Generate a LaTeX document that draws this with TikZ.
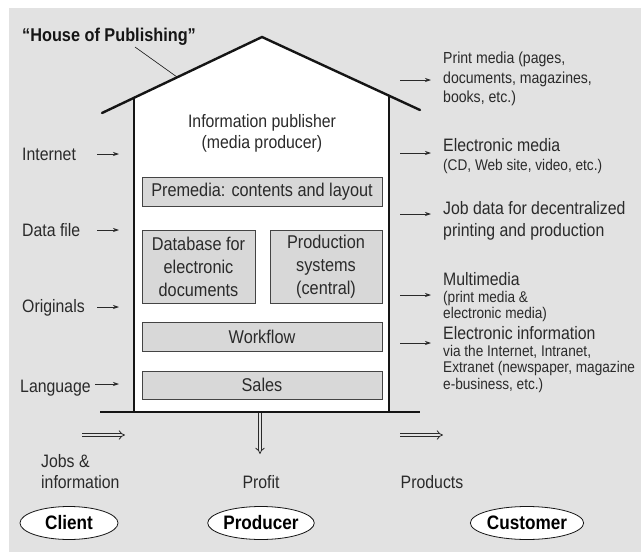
\documentclass[tikz,border=0pt]{standalone}
\usepackage{fontspec}
\setmainfont[FakeStretch=0.88]{Liberation Sans}
\usetikzlibrary{arrows.meta,shapes.geometric}
\definecolor{panel}{HTML}{E2E2E2}
\definecolor{boxfill}{HTML}{D8D8D8}
\definecolor{ink}{HTML}{151515}
\definecolor{txt}{HTML}{2A2A2A}
\begin{document}
\begin{tikzpicture}[x=1pt,y=-1pt,
  big/.style={font=\fontsize{18}{21}\selectfont},
  small/.style={font=\fontsize{15.5}{17}\selectfont},
  % multi-line nodes: the base anchor sits on the last line
  lbl/.style={inner sep=0pt, anchor=base west, text=txt},
  clbl/.style={inner sep=0pt, anchor=base, text=txt},
  unit/.style={draw=ink!80, line width=0.8pt, fill=boxfill, inner sep=0pt,
    text=txt, align=center, font=\fontsize{18.5}{23}\selectfont},
  wall/.style={line width=2.4pt, ink, line cap=round},
  feed/.style={line width=0.7pt, txt, -{Stealth[length=6pt,width=4pt]}},
  flow/.style={double=panel, double distance=2.4pt, line width=0.8pt, txt,
    -{Implies[length=5pt]}},
  party/.style={ellipse, draw=ink, line width=0.8pt, fill=white,
    minimum width=98pt, minimum height=33pt, inner sep=0pt,
    font=\fontsize{19.5}{20}\selectfont\bfseries}
]
\useasboundingbox (0,0) rectangle (641,552);
\fill[panel] (9,8) rectangle (641,552);

% house body
\fill[white] (134,412) -- (134,97.8) -- (262,37) -- (389,95.7) -- (389,412) -- cycle;
\coordinate (eaveL) at (102,113);
\coordinate (apex) at (262,37);
\coordinate (eaveR) at (420,110);
\draw[wall, line join=miter] (eaveL) -- (apex) -- (eaveR);
\draw[wall, line cap=butt] (134,97.8) -- (134,412);
\draw[wall, line cap=butt] (389,95.7) -- (389,412);
\draw[wall, line cap=butt] (100,412) -- (420,412);

% title and its leader
\node[inner sep=0pt, anchor=base west, text=ink, font=\fontsize{18.5}{20}\selectfont\bfseries]
  (title) at (22,41.5) {“House of Publishing”};
\coordinate (leadA) at (135,47);
\coordinate (leadB) at (177,77);
\draw[line width=0.6pt, ink] (leadA) -- (leadB);

% inside the house
\node[clbl, big, align=center] (publisher) at (262,148.5) {Information publisher\\(media producer)};
\node[unit, minimum width=240pt, minimum height=29pt] (premedia) at (262,192) {Premedia: contents and layout};
\node[unit, minimum width=113pt, minimum height=73pt] (database) at (198.5,266.5) {Database for\\electronic\\documents};
\node[unit, minimum width=112pt, minimum height=73pt] (production) at (326,266.5) {Production\\systems\\(central)};
\node[unit, minimum width=240pt, minimum height=29pt] (workflow) at (262,336.5) {Workflow};
\node[unit, minimum width=240pt, minimum height=28pt] (sales) at (262,385) {Sales};

% inputs on the left
\node[lbl, big] (internet) at (22,160.5) {Internet};
\node[lbl, big] (datafile) at (22,236.5) {Data file};
\node[lbl, big] (originals) at (22,312.5) {Originals};
\node[lbl, big] (language) at (20,392.5) {Language};
\coordinate (inA1) at (97,154);  \coordinate (inB1) at (119,154);
\coordinate (inA2) at (97,230);  \coordinate (inB2) at (119,230);
\coordinate (inA3) at (97,307);  \coordinate (inB3) at (119,307);
\coordinate (inA4) at (95,384);  \coordinate (inB4) at (119,384);
\foreach \i in {1,...,4} \draw[feed] (inA\i) -- (inB\i);

% outputs on the right
\node[lbl, align=left, font=\fontsize{16}{19.5}\selectfont] (print) at (443,102.5)
  {Print media (pages,\\documents, magazines,\\books, etc.)};
\node[lbl, align=left, font=\fontsize{15.5}{19}\selectfont] (emedia) at (443,170.5)
  {{\fontsize{18}{19}\selectfont Electronic media}\\(CD, Web site, video, etc.)};
\node[lbl, align=left, font=\fontsize{18}{22}\selectfont] (jobdata) at (443,236.5)
  {Job data for decentralized\\printing and production};
\node[lbl, align=left, font=\fontsize{15.5}{16.5}\selectfont] (multi) at (443,318.5)
  {{\fontsize{18}{16.5}\selectfont Multimedia}\\(print media \&\\electronic media)};
\node[lbl, align=left, font=\fontsize{15.5}{16.5}\selectfont] (einfo) at (443,389)
  {{\fontsize{18}{16.5}\selectfont Electronic information}\\via the Internet, Intranet,\\Extranet (newspaper, magazine\\e-business, etc.)};
\coordinate (outA1) at (400,80);  \coordinate (outB1) at (431,80);
\coordinate (outA2) at (400,153); \coordinate (outB2) at (431,153);
\coordinate (outA3) at (400,214); \coordinate (outB3) at (431,214);
\coordinate (outA4) at (400,295); \coordinate (outB4) at (431,295);
\coordinate (outA5) at (400,343); \coordinate (outB5) at (431,343);
\foreach \i in {1,...,5} \draw[feed] (outA\i) -- (outB\i);

% flows below the house
\coordinate (jobsA) at (82,435);  \coordinate (jobsB) at (125,435);
\coordinate (profA) at (260,413); \coordinate (profB) at (260,454);
\coordinate (prodA) at (400,435); \coordinate (prodB) at (443,435);
\draw[flow] (jobsA) -- (jobsB);
\draw[flow] (profA) -- (profB);
\draw[flow] (prodA) -- (prodB);

\node[lbl, big, align=left] (jobs) at (41,488.5) {Jobs \&\\information};
\node[clbl, big] (profit) at (261,488.5) {Profit};
\node[clbl, big] (products) at (432,488.5) {Products};

% the three parties
\node[party] (client) at (69,523) {Client};
\node[party] (producer) at (261,523) {Producer};
\node[party] (customer) at (527,523) {Customer};
\end{tikzpicture}
\end{document}
